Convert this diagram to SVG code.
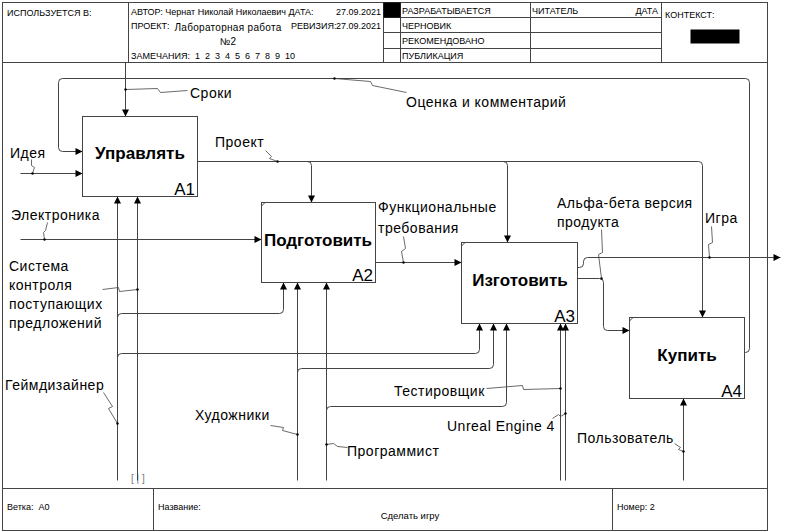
<svg xmlns="http://www.w3.org/2000/svg" width="799" height="532" viewBox="0 0 799 532">
<defs>
<marker id="arr" viewBox="0 0 10 10" refX="10" refY="5" markerWidth="8" markerHeight="7" markerUnits="userSpaceOnUse" orient="auto"><path d="M0,0 L10,5 L0,10 z" fill="#000"/></marker>
</defs>
<style>
.ln{fill:none;stroke:#444;stroke-width:1}
.ar{fill:none;stroke:#444;stroke-width:1;marker-end:url(#arr)}
.sq{fill:none;stroke:#444;stroke-width:0.8}
.box{fill:#fff;stroke:#444;stroke-width:1}
.h{font-family:"Liberation Sans",Arial,sans-serif;font-size:9px;fill:#000}
.lb{font-family:"Liberation Sans",Arial,sans-serif;font-size:14px;letter-spacing:0.5px;fill:#000}
.nt{font-family:"Liberation Sans",Arial,sans-serif;font-size:17px;font-weight:bold;text-anchor:middle;fill:#000}
.nn{font-family:"Liberation Sans",Arial,sans-serif;font-size:17px;text-anchor:end;fill:#000}
.dot{fill:#000}
</style>
<rect x="0" y="0" width="799" height="532" fill="#fff"/>
<g id="frame" transform="translate(0.5,0.5)">
<rect x="2" y="2" width="765" height="528" class="ln"/>
<path class="ln" d="M2,62 L767,62 M2,488 L767,488 M128,2 L128,62 M383,2 L383,62 M400,2 L400,62 M530,2 L530,62 M661,2 L661,62 M383,17 L661,17 M383,32 L661,32 M383,48 L661,48 M153,488 L153,530 M612,488 L612,530"/>
<rect x="383" y="2" width="17" height="15" fill="#000"/>
<rect x="690" y="29" width="49" height="14" fill="#000"/>
</g>
<g id="header">
<text class="h" x="7" y="16">ИСПОЛЬЗУЕТСЯ В:</text>
<text class="h" x="131" y="15">АВТОР: Чернат Николай Николаевич ДАТА:</text>
<text class="h" x="381" y="15" text-anchor="end">27.09.2021</text>
<text class="h" x="131" y="29">ПРОЕКТ:</text>
<text class="h" x="228" y="31" text-anchor="middle" style="font-size:10px;letter-spacing:0.3px">Лабораторная работа</text>
<text class="h" x="228" y="45" text-anchor="middle" style="font-size:10px">№2</text>
<text class="h" x="291" y="29">РЕВИЗИЯ:</text>
<text class="h" x="381" y="29" text-anchor="end">27.09.2021</text>
<text class="h" x="131" y="59" xml:space="preserve">ЗАМЕЧАНИЯ:  1  2  3  4  5  6  7  8  9  10</text>
<text class="h" x="402" y="14">РАЗРАБАТЫВАЕТСЯ</text>
<text class="h" x="402" y="29">ЧЕРНОВИК</text>
<text class="h" x="402" y="44">РЕКОМЕНДОВАНО</text>
<text class="h" x="402" y="59">ПУБЛИКАЦИЯ</text>
<text class="h" x="532" y="14">ЧИТАТЕЛЬ</text>
<text class="h" x="658" y="14" text-anchor="end">ДАТА</text>
<text class="h" x="665" y="18">КОНТЕКСТ:</text>
</g>
<g id="footer">
<text class="h" x="7" y="510" xml:space="preserve">Ветка:  А0</text>
<text class="h" x="158" y="510">Название:</text>
<text class="h" x="410" y="519" text-anchor="middle" style="font-size:9.5px">Сделать игру</text>
<text class="h" x="617" y="510">Номер: 2</text>
<text x="131" y="482" style="font-family:'Liberation Sans',Arial,sans-serif;font-size:10px;fill:#777" xml:space="preserve">[ | ]</text>
</g>
<g id="connectors" transform="translate(0.5,0.5)">
<path class="ar" d="M125,62 L125,116"/>
<path class="ar" d="M744,352 L745,352 Q749,352 749,348 L749,82 Q749,78 745,78 L62,78 Q58,78 58,82 L58,147 Q58,151 62,151 L82,151"/>
<path class="ar" d="M20,173 L82,173"/>
<path class="ar" d="M197,161 L698,161 Q702,161 702,165 L702,317"/>
<path class="ar" d="M307,161 Q311,161 311,165 L311,202"/>
<path class="ar" d="M503,161 Q507,161 507,165 L507,242"/>
<path class="ar" d="M20,239 L261,239"/>
<path class="ar" d="M375,262 L461,262"/>
<path class="ar" d="M577,278 L599,278 Q603,278 603,282 L603,326 Q603,330 607,330 L629,330"/>
<path class="ar" d="M577,267 L579,267 Q583,267 583,263 L583,261 Q583,257 587,257 L780,257"/>
<path class="ar" d="M117,480 L117,196"/>
<path class="ar" d="M117,317 Q117,313 121,313 L279,313 Q283,313 283,309 L283,282"/>
<path class="ar" d="M117,357 Q117,353 121,353 L475,353 Q479,353 479,349 L479,323"/>
<path class="ar" d="M137,480 L137,196"/>
<path class="ar" d="M297,480 L297,282"/>
<path class="ar" d="M297,372 Q297,368 301,368 L489,368 Q493,368 493,364 L493,323"/>
<path class="ar" d="M326,480 L326,282"/>
<path class="ar" d="M326,410 Q326,406 330,406 L502,406 Q506,406 506,402 L506,323"/>
<path class="ar" d="M560,480 L560,323"/>
<path class="ar" d="M565,480 L565,323"/>
<path class="ar" d="M683,480 L683,398"/>
<path class="sq" d="M125,89 L157,88 L160,92 L187,90"/>
<path class="sq" d="M334,78 L370,81 L372,85 L406,92"/>
<path class="sq" d="M31,159 L31,165 L34,167 L32,173"/>
<path class="sq" d="M265,150 L271,156 L269,158 L277,161"/>
<path class="sq" d="M47,222 L45,230 L43,232 L44,239"/>
<path class="sq" d="M403,236 L405,248 L401,251 L403,262"/>
<path class="sq" d="M601,229 L602,252 L598,254 L601,278"/>
<path class="sq" d="M711,226 L712,242 L708,244 L709,257"/>
<path class="sq" d="M103,392 L112,406 L108,408 L117,423"/>
<path class="sq" d="M102,289 L118,287 L119,291 L137,289"/>
<path class="sq" d="M270,425 L283,427 L282,430 L297,434"/>
<path class="sq" d="M326,444 L333,443 L337,446 L347,447"/>
<path class="sq" d="M486,388 L522,385 L523,389 L560,388"/>
<path class="sq" d="M552,418 L558,414 L560,416 L565,413"/>
<path class="sq" d="M674,443 L680,447 L678,449 L683,451"/>
<g class="dot">
<circle cx="125" cy="89" r="1.2"/><circle cx="334" cy="78" r="1.2"/><circle cx="32" cy="173" r="1.2"/><circle cx="277" cy="161" r="1.2"/><circle cx="44" cy="239" r="1.2"/><circle cx="403" cy="262" r="1.2"/><circle cx="601" cy="278" r="1.2"/><circle cx="709" cy="257" r="1.2"/><circle cx="117" cy="423" r="1.2"/><circle cx="137" cy="289" r="1.2"/><circle cx="297" cy="434" r="1.2"/><circle cx="326" cy="444" r="1.2"/><circle cx="560" cy="388" r="1.2"/><circle cx="565" cy="413" r="1.2"/><circle cx="683" cy="451" r="1.2"/>
</g>
</g>
<g id="labels">
<text class="lb" x="190" y="98">Сроки</text>
<text class="lb" x="406" y="107">Оценка и комментарий</text>
<text class="lb" x="10" y="158">Идея</text>
<text class="lb" x="215" y="147">Проект</text>
<text class="lb" x="11" y="220">Электроника</text>
<text class="lb" x="378" y="212">Функциональные</text>
<text class="lb" x="378" y="233">требования</text>
<text class="lb" x="557" y="208">Альфа-бета версия</text>
<text class="lb" x="557" y="227">продукта</text>
<text class="lb" x="705" y="223">Игра</text>
<text class="lb" x="9" y="271">Система</text>
<text class="lb" x="9" y="290">контроля</text>
<text class="lb" x="9" y="309">поступающих</text>
<text class="lb" x="9" y="328">предложений</text>
<text class="lb" x="5" y="390">Геймдизайнер</text>
<text class="lb" x="195" y="420">Художники</text>
<text class="lb" x="347" y="456">Программист</text>
<text class="lb" x="394" y="396">Тестировщик</text>
<text class="lb" x="447" y="431">Unreal Engine 4</text>
<text class="lb" x="577" y="443">Пользователь</text>
</g>
<g id="A1">
<rect class="box" x="82.5" y="116.5" width="115" height="80"/>
<text class="nt" x="140" y="159">Управлять</text>
<text class="nn" x="195" y="195">A1</text>
</g>
<g id="A2">
<rect class="box" x="261.5" y="202.5" width="114" height="80"/>
<path class="ln" d="M261.5,206 L265,202.5"/>
<text class="nt" x="318" y="246">Подготовить</text>
<text class="nn" x="373" y="281">A2</text>
</g>
<g id="A3">
<rect class="box" x="461.5" y="242.5" width="116" height="81"/>
<path class="ln" d="M461.5,246 L465,242.5"/>
<text class="nt" x="520" y="286">Изготовить</text>
<text class="nn" x="575" y="322">A3</text>
</g>
<g id="A4">
<rect class="box" x="629.5" y="317.5" width="115" height="81"/>
<path class="ln" d="M629.5,321 L633,317.5"/>
<text class="nt" x="687" y="361">Купить</text>
<text class="nn" x="742" y="397">A4</text>
</g>
</svg>
